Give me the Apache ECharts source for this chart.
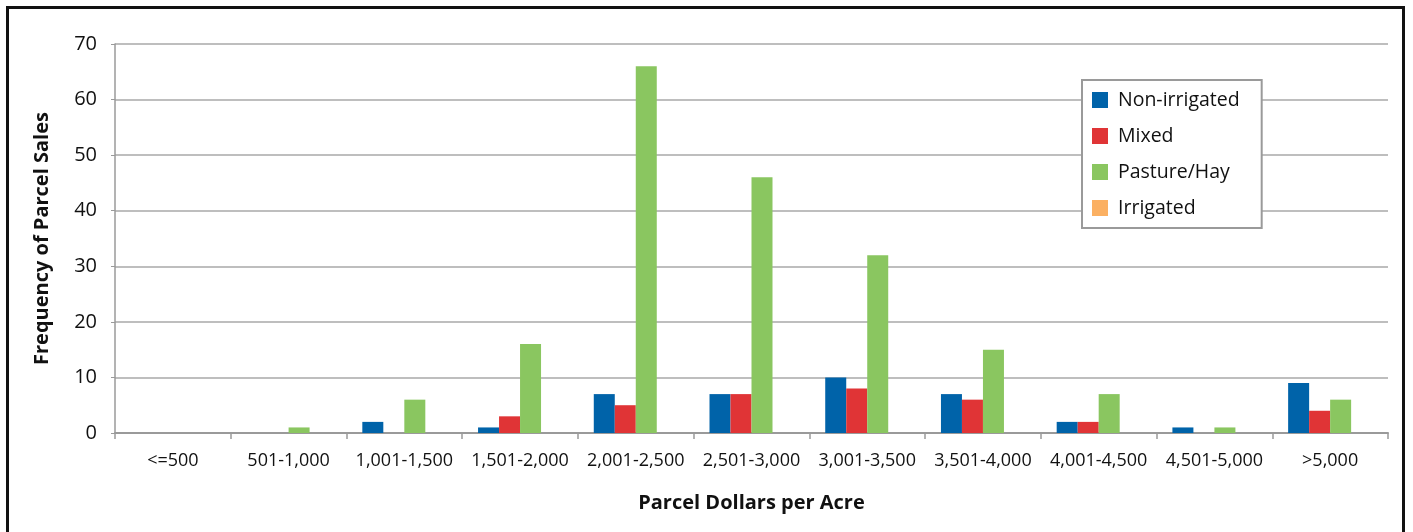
<!DOCTYPE html>
<html><head><meta charset="utf-8">
<script src="https://cdn.jsdelivr.net/npm/echarts@6/dist/echarts.min.js"></script>
<style>
html,body{margin:0;padding:0;background:#fff;}
#frame{position:absolute;left:6px;top:6px;width:1399px;height:540px;border:3px solid #111;box-sizing:border-box;}
#chart{position:absolute;left:0;top:0;width:1413px;height:532px;}
</style></head>
<body>
<div id="frame"></div>
<div id="chart"></div>
<script>
const categories = ['<=500','501-1,000','1,001-1,500','1,501-2,000','2,001-2,500','2,501-3,000','3,001-3,500','3,501-4,000','4,001-4,500','4,501-5,000','>5,000'];
const nonIrrigated = [0,0,2,1,7,7,10,7,2,1,9];
const mixed = [0,0,0,3,5,7,8,6,2,0,4];
const pastureHay = [0,1,6,16,66,46,32,15,7,1,6];
const irrigated = [0,0,0,0,0,0,0,0,0,0,0];
const seriesNames = ['Non-irrigated','Mixed','Pasture/Hay','Irrigated'];
const seriesColors = ['#0063A9','#E03436','#8AC660','#FBB062'];
const yTicks = [0,10,20,30,40,50,60,70];

const font = '"Open Sans", "DejaVu Sans", sans-serif';
const chart = echarts.init(document.getElementById('chart'), null, {renderer:'canvas'});
const dataSets = [nonIrrigated, mixed, pastureHay, irrigated];
chart.setOption({
  animation:false,
  backgroundColor:'transparent',
  grid:{left:115,right:25,top:44,bottom:99,containLabel:false},
  legend:{
    orient:'vertical', left:1082, top:80,
    padding:[10,22,10,10], itemGap:16,
    itemWidth:16, itemHeight:16, icon:'rect',
    backgroundColor:'#fff', borderColor:'#9a9a9a', borderWidth:2,
    textStyle:{fontFamily:font, fontSize:19.5, color:'#111', padding:[0,0,0,5]},
    data:seriesNames
  },
  xAxis:{
    type:'category', data:categories,
    name:'Parcel Dollars per Acre', nameLocation:'middle', nameGap:60,
    nameTextStyle:{fontFamily:font, fontSize:20, fontWeight:'bold', color:'#111'},
    axisLine:{lineStyle:{color:'#9a9a9a', width:2}},
    axisTick:{show:true, length:6, lineStyle:{color:'#9a9a9a', width:1.5}},
    axisLabel:{fontFamily:font, fontSize:18, color:'#111', margin:19, interval:0}
  },
  yAxis:{
    type:'value', min:0, max:70, interval:10,
    name:'Frequency of Parcel Sales', nameLocation:'middle', nameGap:63, nameRotate:90,
    nameTextStyle:{fontFamily:font, fontSize:20, fontWeight:'bold', color:'#111'},
    axisLine:{show:true, lineStyle:{color:'#9a9a9a', width:1.5}},
    axisTick:{show:true, length:4, lineStyle:{color:'#9a9a9a'}},
    axisLabel:{fontFamily:font, fontSize:20, color:'#111', margin:18,
      formatter:function(v){return yTicks.indexOf(v)>=0?String(v):'';}},
    splitLine:{show:true, lineStyle:{color:'#a8a8a8', width:1.5}}
  },
  series: seriesNames.map((n,i)=>({
    name:n, type:'bar', data:dataSets[i], barWidth:21, barGap:'0%',
    itemStyle:{color:seriesColors[i]}
  }))
});
</script>
</body></html>
